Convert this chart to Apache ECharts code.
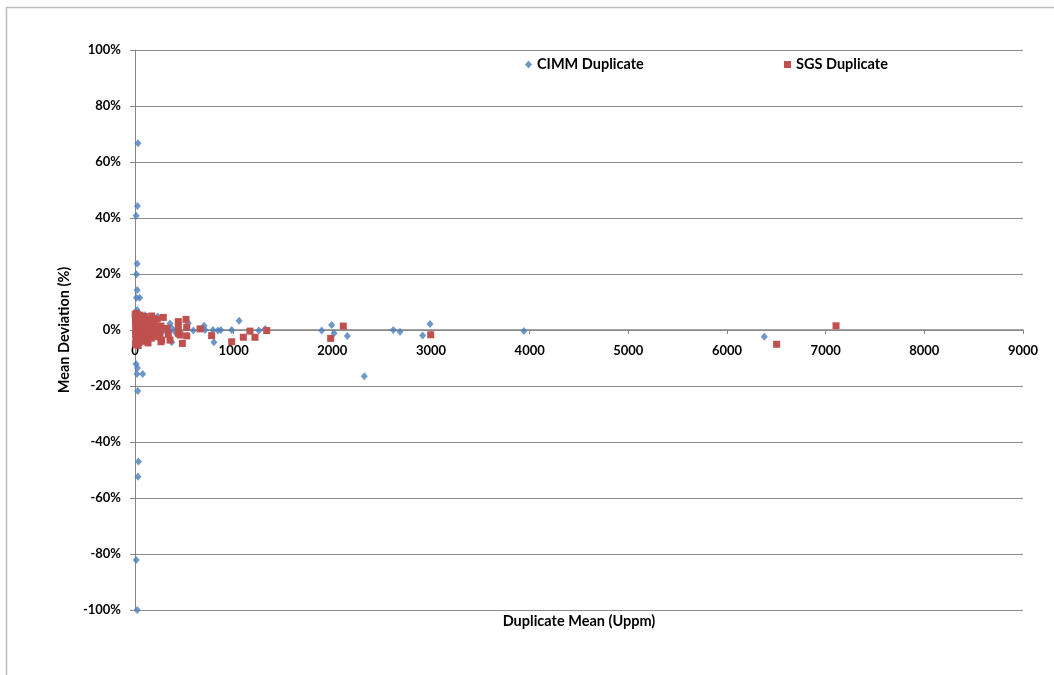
<!DOCTYPE html>
<html>
<head>
<meta charset="utf-8">
<script src="https://cdn.jsdelivr.net/npm/echarts@6/dist/echarts.min.js"></script>
<style>
  html, body { margin: 0; padding: 0; background: #ffffff; }
  #chart { width: 1054px; height: 675px; }
</style>
</head>
<body>
<div id="chart"></div>
<script>
// Duplicate mean (U ppm) and mean deviation (%) for each duplicate pair
const cimmMean = [30, 25, 12, 22, 15, 22, 48, 15, 20, 40, 101, 230, 355, 372, 405, 304, 220, 372, 540, 591,
  700, 710, 790, 800, 840, 870, 980, 1055, 1255, 1320, 1892, 1993, 2017, 2152, 2324, 2618, 2686, 2916, 2990,
  3942, 6378, 10, 25, 20, 78, 28, 35, 30, 12, 22, 5, 8, 12, 18, 30, 50, 60, 90, 120, 150, 260, 450];
const cimmDev = [66.7, 44.3, 40.8, 23.7, 19.9, 14.3, 11.5, 11.5, 7.1, 6.0, 5.3, 4.8, 2.3, 0.7, -0.6, -0.2, 0.6, -4.4, 2.4, -0.2,
  1.5, 0, 0, -4.4, -0.2, 0, 0, 3.3, -0.2, 0.4, -0.2, 1.8, -1.2, -2.1, -16.5, 0, -0.6, -2.0, 2.1,
  -0.4, -2.4, -12.1, -13.6, -15.7, -15.7, -21.8, -47, -52.4, -82.1, -100, 2, -1, 4, -3, 1, -2, 3, -1, 0.5, -2.5, -1, -0.5];

const sgsMean = [169, 287, 263, 439, 517, 524, 338, 439, 355, 480, 524, 253, 263, 660, 777, 980, 1098, 1165, 1216, 1335,
  2111, 1983, 2997, 6503, 7105, 270, 439, 456, 321, 236,
  2, 4, 5, 6, 7, 8, 9, 10, 11, 12, 13, 14, 15, 16, 18, 19, 20, 22, 24, 25, 27, 29, 30, 32, 34, 36, 38, 40,
  42, 45, 48, 50, 53, 56, 60, 63, 66, 70, 74, 78, 82, 86, 90, 95, 100, 105, 110, 115, 120, 126, 132, 138,
  145, 150, 158, 165, 175, 185, 195, 205, 215, 225];
const sgsDev = [5.0, 4.5, 1.4, 3.0, 3.8, 1.0, -1.5, -1.2, -3.6, -4.8, -2.1, -1.2, -4.2, 0.4, -2.0, -4.2, -2.6, -0.4, -2.6, -0.2,
  1.4, -3.0, -1.7, -5.1, 1.5, -3.6, 1.2, -1.8, 0.6, -2.4,
  5.5, -4.8, 3.2, -1.5, 0.8, 4.6, -3.3, 2.1, -5.2, 5.9, -0.6, 1.7, -2.7, 3.9, -4.1, 0.3, 2.8, -1.9, 5.1, -3.8, 1.2, -0.9, 4.2, -5.5, 2.5, -2.2, 0.2, 3.5,
  -4.4, 1.9, -1.1, 5.3, -3.0, 0.7, 2.9, -2.5, 4.4, -0.4, 1.5, -4.0, 3.1, -1.7, 0.9, 4.8, -3.2, 2.2, -0.8, 3.6, -2.0, 1.0, -4.6, 2.7,
  -1.3, 0.4, 3.3, -2.9, 1.6, -0.5, 2.4, -1.8, 0.9, 3.9];

const seriesNames = ['CIMM Duplicate', 'SGS Duplicate'];
const xTitle = 'Duplicate Mean (Uppm)';
const yTitle = 'Mean Deviation (%)';

const pairs = (xs, ys) => xs.map((x, i) => [x, ys[i]]);

const FONT = 'Lato';
const textBase = { fontFamily: FONT, fontWeight: 'bold', fontSize: 13, color: '#000000' };
const textLarge = Object.assign({}, textBase, { fontSize: 14.5 });

// Plot area; the value axis crosses at 0 %, which sits halfway down the grid
const GRID = { left: 135, right: 31, top: 50, bottom: 65 };
const gridHeight = 675 - GRID.top - GRID.bottom;

const chart = echarts.init(document.getElementById('chart'), null, { renderer: 'canvas' });
chart.setOption({
  backgroundColor: '#ffffff',
  animation: false,
  graphic: [
    {
      type: 'rect',
      shape: { x: 6.5, y: 7.5, width: 1200, height: 800 },
      style: { fill: 'none', stroke: '#BDBDBD', lineWidth: 1.5 },
      silent: true
    }
  ],
  legend: [
    {
      data: [{ name: seriesNames[0], icon: 'diamond' }],
      left: 520, top: 52,
      itemWidth: 7, itemHeight: 8, itemGap: 6,
      textStyle: Object.assign({}, textLarge)
    },
    {
      data: [{ name: seriesNames[1], icon: 'rect' }],
      left: 779, top: 52,
      itemWidth: 7, itemHeight: 7,
      textStyle: Object.assign({}, textLarge)
    }
  ],
  grid: Object.assign({ containLabel: false, outerBoundsMode: 'none' }, GRID),
  xAxis: {
    type: 'value',
    min: 0, max: 9000, interval: 1000,
    position: 'bottom',
    offset: -gridHeight / 2,
    name: xTitle,
    nameLocation: 'middle',
    nameGap: 284,
    nameTextStyle: Object.assign({}, textLarge, { verticalAlign: 'top' }),
    axisLine: { onZero: false, lineStyle: { color: '#868686', width: 1.5 } },
    axisTick: { show: true, length: 4, lineStyle: { color: '#868686' } },
    axisLabel: Object.assign({ margin: 14, formatter: (v) => String(v) }, textBase),
    splitLine: { show: false }
  },
  yAxis: {
    type: 'value',
    min: -100, max: 100, interval: 20,
    name: yTitle,
    nameLocation: 'middle',
    nameGap: 53,
    nameRotate: 90,
    nameTextStyle: Object.assign({}, textLarge),
    axisLine: { show: true, onZero: false, lineStyle: { color: '#868686', width: 1 } },
    axisTick: { show: true, length: 5, inside: false, lineStyle: { color: '#868686' } },
    axisLabel: Object.assign({ margin: 14, formatter: '{value}%' }, textBase),
    splitLine: { show: true, lineStyle: { color: '#8C8C8C', width: 1 } }
  },
  series: [
    {
      name: seriesNames[0],
      type: 'scatter',
      symbol: 'diamond',
      symbolSize: [7, 8],
      itemStyle: { color: '#4A7EBB' },
      data: pairs(cimmMean, cimmDev),
      z: 2
    },
    {
      name: seriesNames[1],
      type: 'scatter',
      symbol: 'rect',
      symbolSize: 7,
      itemStyle: { color: '#C0504D', opacity: 1 },
      data: pairs(sgsMean, sgsDev),
      z: 3
    }
  ]
});
</script>
</body>
</html>
